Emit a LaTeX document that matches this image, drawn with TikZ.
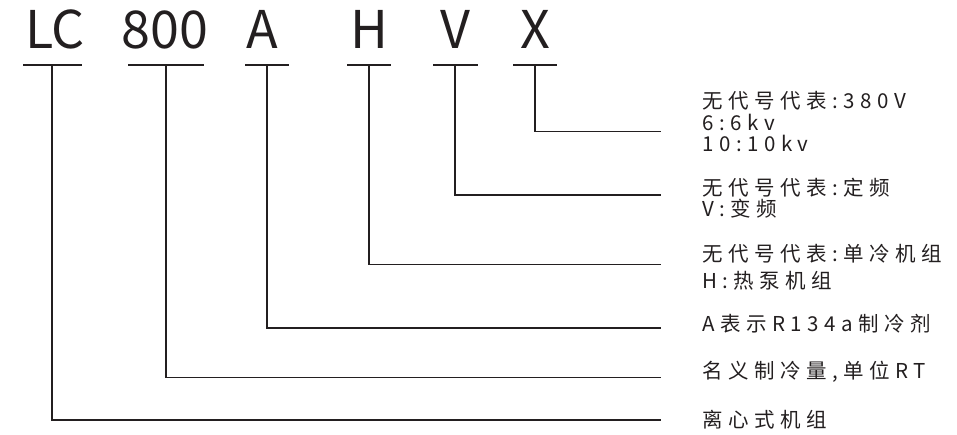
\documentclass[tikz,border=0pt]{standalone}
\usepackage{fontspec}
\setmainfont{Noto Sans CJK SC}
\newfontfamily\codefont{Noto Sans CJK SC}
\newfontfamily\notefont[LetterSpace=27]{Noto Sans CJK SC}
\definecolor{ink}{HTML}{231F20}

\begin{document}
\begin{tikzpicture}[x=1pt,y=-1pt]
\tikzset{
  code/.style={font=\codefont\fontsize{52}{52}\selectfont, text=ink, inner sep=0pt, anchor=base},
  % anchor on the baseline of the last line of each note
  note/.style={font=\notefont\fontsize{20.5}{21.6}\selectfont, text=ink, inner sep=0pt, anchor=base west, align=left},
  link/.style={draw=ink, line width=1.3pt, line cap=butt, line join=miter},
}
\useasboundingbox (0,0) rectangle (957,435);

% model code letters
\node[code] (lc)   at (55,49)    {LC};
\node[code] (n800) at (165,49)   {800};
\node[code] (a)    at (262.5,49) {A};
\node[code] (h)    at (369.5,49) {H};
\node[code] (v)    at (455,49)   {V};
\node[code] (x)    at (535,49)   {X};

% underline end points and tap points
\coordinate (lcL) at (23,65);   \coordinate (lcR) at (82,65);   \coordinate (lcT) at (52,65);
\coordinate (n8L) at (128,65);  \coordinate (n8R) at (204,65);  \coordinate (n8T) at (166,65);
\coordinate (aL)  at (245,65);  \coordinate (aR)  at (289,65);  \coordinate (aT)  at (267,65);
\coordinate (hL)  at (347,65);  \coordinate (hR)  at (391,65);  \coordinate (hT)  at (369,65);
\coordinate (vL)  at (433,65);  \coordinate (vR)  at (478,65);  \coordinate (vT)  at (455,65);
\coordinate (xL)  at (513,65);  \coordinate (xR)  at (557,65);  \coordinate (xT)  at (535,65);

\foreach \k in {lc,n8,a,h,v,x} \draw[link] (\k L) -- (\k R);

% line ends beside the notes
\coordinate (xE)  at (661,131.7);
\coordinate (vE)  at (661,195);
\coordinate (hE)  at (661,264.3);
\coordinate (aE)  at (661,328);
\coordinate (n8E) at (661,377.3);
\coordinate (lcE) at (661,420);

% notes
\node[note] (tx) at (702,151.7) {无代号代表:380V\\6:6kv\\10:10kv};
\node[note] (tv) at (702,216.7) {无代号代表:定频\\V:变频};
\node[note] (th) at (702,288.3) {无代号代表:单冷机组\\[5.4pt]H:热泵机组};
\node[note] (ta) at (702,331.7) {A表示R134a制冷剂};
\node[note] (t8) at (702,378)   {名义制冷量,单位RT};
\node[note] (tl) at (702,427.5) {离心式机组};

% connectors
\draw[link] (xT)  |- (xE);
\draw[link] (vT)  |- (vE);
\draw[link] (hT)  |- (hE);
\draw[link] (aT)  |- (aE);
\draw[link] (n8T) |- (n8E);
\draw[link] (lcT) |- (lcE);
\end{tikzpicture}
\end{document}
